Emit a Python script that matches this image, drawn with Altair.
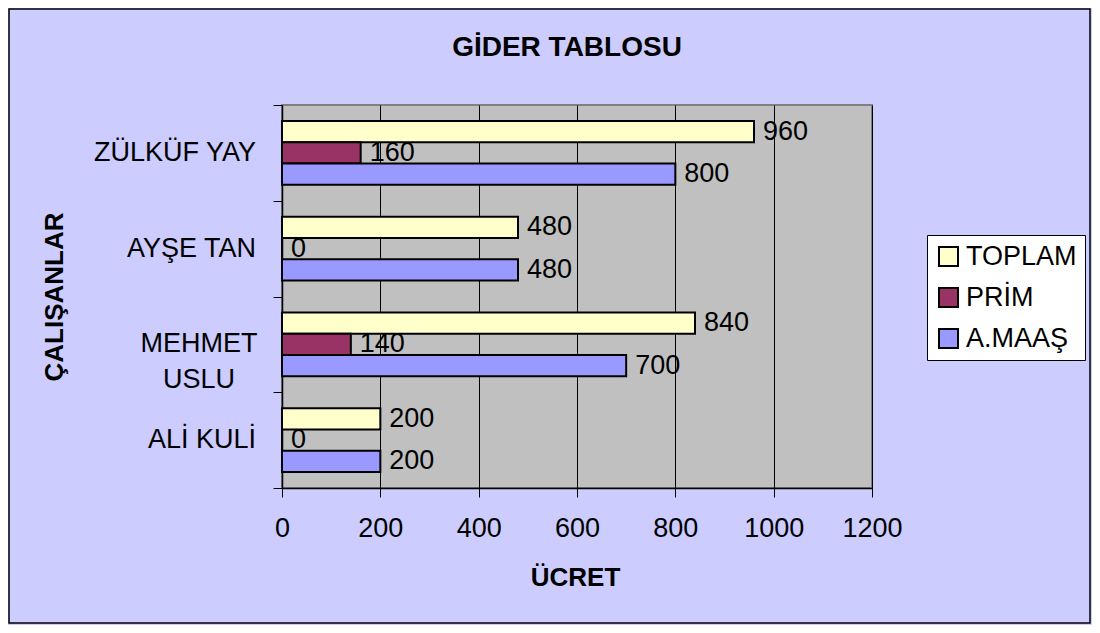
import altair as alt
import pandas as pd

# ---- data ----
categories = ["ALİ KULİ", "MEHMET USLU", "AYŞE TAN", "ZÜLKÜF YAY"]
a_maas = [200, 700, 480, 800]
prim = [0, 140, 0, 160]
toplam = [200, 840, 480, 960]
series = ["TOPLAM", "PRİM", "A.MAAŞ"]
series_colors = ["#FFFFCC", "#993366", "#9999FF"]
x_ticks = [0, 200, 400, 600, 800, 1000, 1200]
cat_order = ["ZÜLKÜF YAY", "AYŞE TAN", "MEHMET USLU", "ALİ KULİ"]
chart_title = "GİDER TABLOSU"

rows = []
for i, c in enumerate(categories):
    rows.append({"cat": c, "series": "TOPLAM", "value": toplam[i]})
    rows.append({"cat": c, "series": "PRİM", "value": prim[i]})
    rows.append({"cat": c, "series": "A.MAAŞ", "value": a_maas[i]})
df = pd.DataFrame(rows)

single_labels = pd.DataFrame({"cat": ["ZÜLKÜF YAY", "AYŞE TAN", "ALİ KULİ"],
                              "label": ["ZÜLKÜF YAY", "AYŞE TAN", "ALİ KULİ"]})
multi_labels = pd.DataFrame({"cat": ["MEHMET USLU"], "label": ["MEHMET\nUSLU"]})

FONT = "Liberation Sans"
W, H = 590, 383

y_enc = alt.Y("cat:N", sort=cat_order,
              scale=alt.Scale(paddingInner=0, paddingOuter=0),
              axis=alt.Axis(labels=False, tickBand="extent", tickSize=9,
                            tickColor="black", domainColor="black",
                            domainWidth=1.5, grid=False,
                            title="ÇALIŞANLAR", titleFont=FONT,
                            titleFontSize=26, titleFontWeight="bold",
                            titleColor="black", titleX=-228, titleY=191.5,
                            titleAngle=270, titleAlign="center",
                            titleBaseline="middle"))
y_plain = alt.Y("cat:N", sort=cat_order)
yoff = alt.YOffset("series:N", sort=series,
                   scale=alt.Scale(paddingInner=0, paddingOuter=0.75))

x_enc = alt.X("value:Q",
              scale=alt.Scale(domain=[0, 1200], nice=False),
              axis=alt.Axis(values=x_ticks, format="d", labelOverlap=False,
                            labelFlush=False, grid=True, gridColor="black",
                            gridWidth=1, tickSize=9, tickColor="black",
                            domainColor="black", domainWidth=1.5,
                            labelFont=FONT, labelFontSize=27,
                            labelColor="black", labelPadding=18,
                            title="ÜCRET", titleFont=FONT, titleFontSize=26,
                            titleFontWeight="bold", titleColor="black",
                            titleX=293, titleY=89, titleAlign="center",
                            titleBaseline="middle"))

border = alt.Chart(pd.DataFrame({"a": [0]})).mark_rect(
    fill="#CCCCFF", fillOpacity=0, stroke="black", strokeWidth=1.5
).encode(x=alt.value(-273), x2=alt.value(W + 218),
         y=alt.value(-96), y2=alt.value(H + 135))

title = alt.Chart(pd.DataFrame({"t": [chart_title]})).mark_text(
    align="center", baseline="alphabetic", font=FONT, fontSize=28,
    fontWeight="bold", color="black"
).encode(x=alt.value(285), y=alt.value(-49), text="t:N")

bars = alt.Chart(df).mark_bar(stroke="black", strokeWidth=2).encode(
    y=y_enc, yOffset=yoff, x=x_enc,
    color=alt.Color("series:N", sort=series,
                    scale=alt.Scale(domain=series, range=series_colors),
                    legend=alt.Legend(title=None, orient="none",
                                      legendX=645, legendY=130,
                                      fillColor="white", strokeColor="black",
                                      padding=8, symbolType="square",
                                      symbolSize=361, symbolStrokeColor="black",
                                      symbolStrokeWidth=2, symbolOpacity=1,
                                      labelFont=FONT, labelFontSize=27,
                                      labelColor="black", labelOffset=4,
                                      rowPadding=13))
)

value_labels = alt.Chart(df).mark_text(
    align="left", baseline="middle", dx=9, font=FONT, fontSize=27,
    color="black"
).encode(y=y_plain, yOffset=yoff, x="value:Q", text="value:Q")

cat_right = alt.Chart(single_labels).mark_text(
    align="right", baseline="middle", font=FONT, fontSize=27, color="black"
).encode(y=y_plain, x=alt.value(-26), text="label:N")

cat_center = alt.Chart(multi_labels).mark_text(
    align="center", baseline="middle", font=FONT, fontSize=27, color="black",
    lineBreak="\n", lineHeight=36
).encode(y=y_plain, x=alt.value(-83), text="label:N")

chart = alt.layer(border, title, bars, value_labels, cat_right, cat_center).properties(
    width=W, height=H,
    autosize=alt.AutoSizeParams(type="none"),
    padding={"left": 274, "top": 97, "right": 1084 - 274 - W,
             "bottom": 617 - 97 - H},
    background="#CCCCFF",
).configure_view(fill="#C0C0C0", stroke="#808080", strokeWidth=2)

chart.save("out.html", embed_options={"renderer": "svg", "actions": False})
